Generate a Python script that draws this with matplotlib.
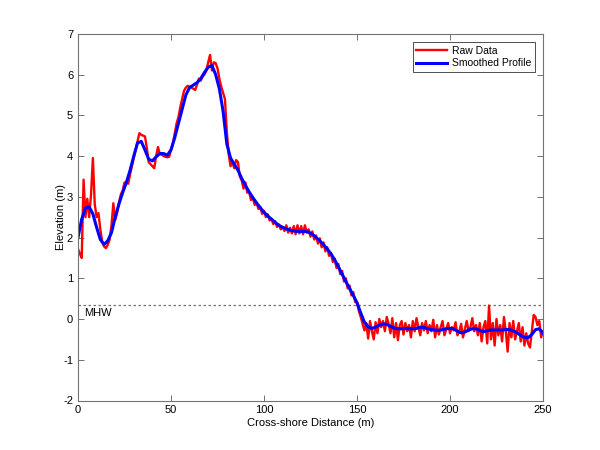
import numpy as np
import matplotlib
matplotlib.use("Agg")
import matplotlib.pyplot as plt

# Profile data
mhw = 0.35

raw_dist = np.arange(0, 251)
raw_elev = [
    1.72, 1.60, 1.50, 3.42, 2.50, 2.95, 2.50, 3.05, 3.95, 2.82,
    2.50, 2.60, 2.20, 1.90, 1.78, 1.74, 1.82, 1.95, 2.30, 2.84,
    2.43, 2.60, 2.85, 3.05, 3.15, 3.35, 3.35, 3.32, 3.55, 3.75,
    3.95, 4.15, 4.35, 4.56, 4.52, 4.50, 4.48, 4.20, 3.85, 3.80,
    3.75, 3.70, 4.00, 4.22, 4.05, 4.03, 4.00, 3.98, 3.97, 3.98,
    4.15, 4.30, 4.55, 4.80, 4.95, 5.20, 5.40, 5.60, 5.68, 5.72,
    5.70, 5.68, 5.65, 5.62, 5.75, 5.90, 5.85, 5.95, 6.00, 6.10,
    6.30, 6.48, 6.10, 6.30, 6.28, 6.15, 5.90, 5.70, 5.55, 5.40,
    4.60, 4.05, 3.75, 3.85, 3.70, 3.90, 3.85, 3.50, 3.40, 3.20,
    3.35, 3.10, 3.12, 2.92, 2.98, 2.80, 2.85, 2.70, 2.75, 2.58,
    2.65, 2.50, 2.57, 2.42, 2.46, 2.33, 2.40, 2.26, 2.32, 2.20,
    2.26, 2.16, 2.30, 2.12, 2.24, 2.10, 2.28, 2.08, 2.30, 2.10,
    2.28, 2.08, 2.30, 2.12, 2.20, 2.02, 2.15, 1.95, 2.05, 1.85,
    1.98, 1.76, 1.88, 1.66, 1.76, 1.55, 1.62, 1.40, 1.48, 1.25,
    1.35, 1.10, 1.18, 0.92, 1.00, 0.75, 0.82, 0.58, 0.66, 0.42,
    0.40, 0.20, 0.05, -0.12, -0.28, -0.10, -0.48, -0.05, -0.30, -0.50,
    -0.08, -0.35, 0.00, -0.20, -0.05, -0.30, 0.05, -0.12, -0.35, 0.02,
    -0.45, -0.10, -0.52, -0.15, -0.05, -0.38, -0.10, -0.30, -0.15, -0.45,
    -0.05, -0.30, 0.02, -0.20, -0.40, -0.10, -0.28, -0.05, -0.35, -0.15,
    -0.30, -0.02, -0.45, -0.15, -0.38, -0.20, -0.05, -0.40, -0.25, -0.10,
    -0.35, -0.20, -0.28, -0.08, -0.40, -0.30, -0.12, -0.45, -0.25, -0.05,
    -0.30, -0.20, 0.02, -0.30, -0.15, -0.40, -0.10, -0.55, -0.20, -0.05,
    -0.60, 0.33, -0.50, -0.10, -0.65, 0.00, -0.40, -0.15, -0.55, 0.05,
    -0.30, -0.80, -0.10, -0.45, -0.05, -0.50, -0.30, -0.10, -0.55, -0.20,
    -0.65, -0.35, -0.60, -0.70, -0.30, 0.10, 0.05, -0.15, -0.05, -0.45,
    -0.30,
]

smooth_dist = np.arange(0, 251, 2)
smooth_elev = [
    2.00, 2.45, 2.72, 2.75, 2.58, 2.25, 1.95, 1.83, 1.92, 2.12,
    2.50, 2.82, 3.10, 3.35, 3.65, 4.00, 4.32, 4.36, 4.15, 3.92,
    3.88, 3.98, 4.06, 4.06, 4.02, 4.15, 4.45, 4.80, 5.15, 5.50,
    5.68, 5.74, 5.80, 5.90, 6.05, 6.18, 6.22, 6.00, 5.65, 5.10,
    4.30, 3.95, 3.80, 3.65, 3.45, 3.28, 3.12, 2.98, 2.85, 2.73,
    2.62, 2.53, 2.45, 2.37, 2.30, 2.25, 2.21, 2.18, 2.16, 2.15,
    2.15, 2.15, 2.13, 2.08, 2.00, 1.92, 1.82, 1.72, 1.60, 1.45,
    1.28, 1.10, 0.92, 0.75, 0.58, 0.40, 0.15, -0.08, -0.19, -0.23,
    -0.20, -0.15, -0.12, -0.13, -0.18, -0.22, -0.24, -0.24, -0.23, -0.24,
    -0.24, -0.23, -0.20, -0.21, -0.24, -0.26, -0.27, -0.28, -0.26, -0.24,
    -0.23, -0.24, -0.30, -0.34, -0.32, -0.27, -0.24, -0.24, -0.28, -0.31,
    -0.29, -0.27, -0.27, -0.27, -0.27, -0.26, -0.26, -0.29, -0.34, -0.40,
    -0.45, -0.46, -0.38, -0.26, -0.24, -0.35,
]

plt.rcParams['font.family'] = ['Liberation Sans', 'DejaVu Sans']
plt.rcParams['font.size'] = 8
plt.rcParams['axes.unicode_minus'] = False

fig = plt.figure(figsize=(6, 4.5), dpi=100)
ax = fig.add_axes([0.13, 0.11, 0.775, 0.815])

ax.axhline(mhw, color='0.45', linestyle=(0, (2, 2)), linewidth=0.9)
ax.plot(raw_dist, raw_elev, color='#ff0000', linewidth=1.7, label='Raw Data')
ax.plot(smooth_dist, smooth_elev, color='#0000ff', linewidth=2.2, label='Smoothed Profile')
ax.text(3.5, 0.14, 'MHW', fontsize=8, va='center', ha='left')

ax.set_xlim(0, 250)
ax.set_ylim(-2, 7)
ax.set_xticks(np.arange(0, 251, 50))
ax.set_yticks(np.arange(-2, 8, 1))
ax.tick_params(direction='in', length=4, width=0.6, top=True, right=True,
               colors='0.35', labelcolor='black', labelsize=8)
for s in ax.spines.values():
    s.set_color('0.45')
    s.set_linewidth(0.8)

ax.set_xlabel('Cross-shore Distance (m)', fontsize=8, labelpad=2)
ax.set_ylabel('Elevation (m)', fontsize=8, labelpad=-2)

leg = ax.legend(loc='upper right', fontsize=7.5, fancybox=False, framealpha=1,
                edgecolor='0.2', borderaxespad=0.8, handlelength=3.0,
                borderpad=0.35, labelspacing=0.25, handletextpad=0.4)
leg.get_frame().set_linewidth(0.6)

fig.savefig('out.png', dpi=100)
